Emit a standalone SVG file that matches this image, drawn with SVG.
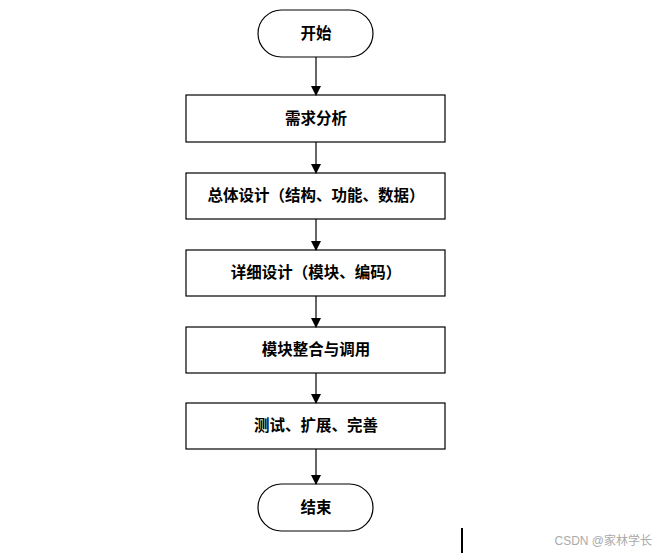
<svg xmlns="http://www.w3.org/2000/svg" width="659" height="554" viewBox="0 0 659 554">
<defs>
<marker id="arr" markerWidth="10" markerHeight="12" refX="9" refY="5" orient="auto" markerUnits="userSpaceOnUse">
<path d="M0,0 L10,5 L0,10 Z" fill="#000"/>
</marker>
<style>
.n{fill:#fff;stroke:#000;stroke-width:1.2}
.t{font-family:"Liberation Serif","Noto Sans CJK SC",serif;font-size:15.5px;font-weight:bold;text-anchor:middle;fill:#000}
.c{stroke:#000;stroke-width:1.2;fill:none;marker-end:url(#arr)}
</style>
</defs>
<rect width="659" height="554" fill="#fff"/>
<g id="start"><rect class="n" x="258" y="10" width="115" height="47" rx="23.5"/><text class="t" x="316" y="39">开始</text></g>
<g id="n1"><rect class="n" x="186" y="95" width="259" height="47"/><text class="t" x="316" y="124">需求分析</text></g>
<g id="n2"><rect class="n" x="186" y="173" width="259" height="46"/><text class="t" x="316" y="201">总体设计（结构、功能、数据）</text></g>
<g id="n3"><rect class="n" x="186" y="250" width="259" height="46"/><text class="t" x="316" y="278">详细设计（模块、编码）</text></g>
<g id="n4"><rect class="n" x="186" y="327" width="259" height="46"/><text class="t" x="316" y="355">模块整合与调用</text></g>
<g id="n5"><rect class="n" x="186" y="403" width="259" height="46"/><text class="t" x="316" y="431">测试、扩展、完善</text></g>
<g id="end"><rect class="n" x="258" y="484" width="115" height="47" rx="23.5"/><text class="t" x="316" y="513">结束</text></g>
<g id="connectors">
<line class="c" x1="316" y1="57" x2="316" y2="95"/>
<line class="c" x1="316" y1="142" x2="316" y2="173"/>
<line class="c" x1="316" y1="219" x2="316" y2="250"/>
<line class="c" x1="316" y1="296" x2="316" y2="327"/>
<line class="c" x1="316" y1="373" x2="316" y2="403"/>
<line class="c" x1="316" y1="449" x2="316" y2="484"/>
</g>
<line x1="462" y1="528" x2="462" y2="553" stroke="#000" stroke-width="2"/>
<text x="652" y="545" text-anchor="end" font-family="'Liberation Sans','Noto Sans CJK SC',sans-serif" font-size="12" fill="#aaa">CSDN @家林学长</text>
</svg>
